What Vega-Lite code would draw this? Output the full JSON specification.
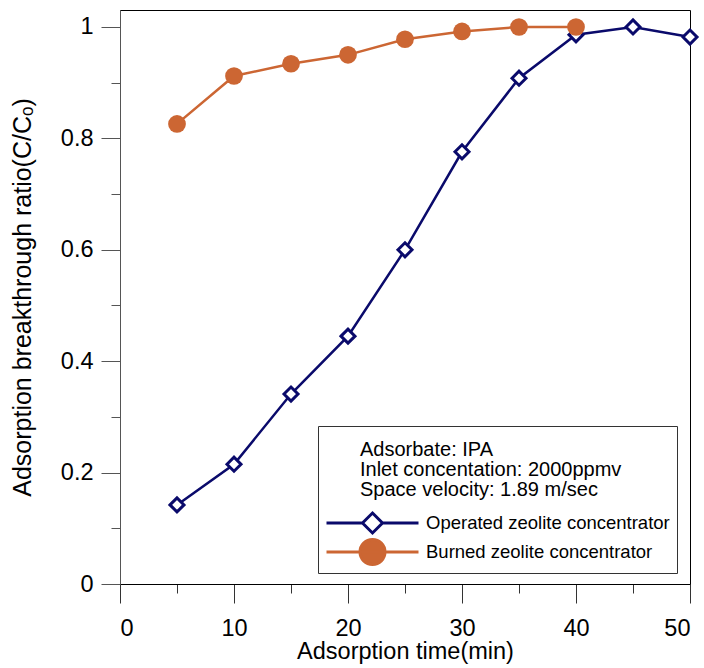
{
  "$schema": "https://vega.github.io/schema/vega-lite/v6.json",
  "width": 570,
  "height": 574,
  "autosize": {"type": "none"},
  "padding": {"left": 120, "top": 10, "right": 14, "bottom": 84},
  "config": {
    "font": "Liberation Sans",
    "view": {"stroke": "black", "strokeWidth": 1}
  },
  "data": {
    "values": [
      {"t": 5, "r": 0.142, "s": "Operated zeolite concentrator"},
      {"t": 10, "r": 0.215, "s": "Operated zeolite concentrator"},
      {"t": 15, "r": 0.341, "s": "Operated zeolite concentrator"},
      {"t": 20, "r": 0.445, "s": "Operated zeolite concentrator"},
      {"t": 25, "r": 0.600, "s": "Operated zeolite concentrator"},
      {"t": 30, "r": 0.776, "s": "Operated zeolite concentrator"},
      {"t": 35, "r": 0.908, "s": "Operated zeolite concentrator"},
      {"t": 40, "r": 0.986, "s": "Operated zeolite concentrator"},
      {"t": 45, "r": 1.0, "s": "Operated zeolite concentrator"},
      {"t": 50, "r": 0.982, "s": "Operated zeolite concentrator"},
      {"t": 5, "r": 0.826, "s": "Burned zeolite concentrator"},
      {"t": 10, "r": 0.912, "s": "Burned zeolite concentrator"},
      {"t": 15, "r": 0.934, "s": "Burned zeolite concentrator"},
      {"t": 20, "r": 0.950, "s": "Burned zeolite concentrator"},
      {"t": 25, "r": 0.978, "s": "Burned zeolite concentrator"},
      {"t": 30, "r": 0.992, "s": "Burned zeolite concentrator"},
      {"t": 35, "r": 1.0, "s": "Burned zeolite concentrator"},
      {"t": 40, "r": 1.0, "s": "Burned zeolite concentrator"}
    ]
  },
  "encoding": {
    "x": {
      "field": "t",
      "type": "quantitative",
      "scale": {"domain": [0, 50], "nice": false},
      "axis": {
        "title": "Adsorption time(min)",
        "values": [0, 5, 10, 15, 20, 25, 30, 35, 40, 45, 50],
        "format": "d",
        "labelExpr": "datum.value % 10 === 0 ? datum.label : ''",
        "tickSize": {"condition": {"test": "datum.value % 10 === 0", "value": 19}, "value": 9},
        "grid": false,
        "domainColor": "black",
        "tickColor": "#333333",
        "labelFontSize": 23.5,
        "labelColor": "black",
        "labelPadding": 13,
        "titleFontSize": 23.5,
        "titleFontWeight": "normal",
        "titleColor": "black",
        "titlePadding": 0
      }
    },
    "y": {
      "field": "r",
      "type": "quantitative",
      "scale": {"domain": [0, 1.0305], "nice": false},
      "axis": {
        "title": "Adsorption breakthrough ratio(C/Cₒ)",
        "values": [0, 0.1, 0.2, 0.3, 0.4, 0.5, 0.6, 0.7, 0.8, 0.9, 1],
        "format": "~g",
        "labelExpr": "round(datum.value * 10) % 2 === 0 ? datum.label : ''",
        "tickSize": {"condition": {"test": "round(datum.value * 10) % 2 === 0", "value": 19}, "value": 9},
        "grid": false,
        "domainColor": "#555555",
        "tickColor": "#555555",
        "labelFontSize": 23.5,
        "labelColor": "black",
        "labelPadding": 8,
        "titleFontSize": 25,
        "titleFontWeight": "normal",
        "titleColor": "black",
        "titlePadding": 25
      }
    }
  },
  "layer": [
    {
      "mark": {"type": "line", "strokeWidth": 2.5},
      "encoding": {
        "color": {
          "field": "s",
          "type": "nominal",
          "scale": {
            "domain": ["Operated zeolite concentrator", "Burned zeolite concentrator"],
            "range": ["#0a0a6b", "#cc6633"]
          },
          "legend": {
            "orient": "none",
            "legendX": 198,
            "legendY": 416,
            "title": ["Adsorbate: IPA", "Inlet concentation: 2000ppmv", "Space velocity: 1.89 m/sec"],
            "titleFontSize": 20,
            "titleFontWeight": "normal",
            "titleColor": "black",
            "titleLineHeight": 20,
            "titlePadding": 16,
            "titleLimit": 1000,
            "labelFontSize": 18.5,
            "labelColor": "black",
            "labelLimit": 1000,
            "padding": 7,
            "strokeColor": "#333333",
            "fillColor": "white",
            "symbolSize": 400,
            "symbolOffset": 36,
            "labelOffset": 42,
            "clipHeight": 28,
            "rowPadding": 1,
            "symbolStrokeWidth": 3,
            "encode": {
              "title": {"update": {"dx": {"value": 35}, "dy": {"value": 7}}},
              "symbols": {
                "update": {
                  "shape": {"signal": "datum.value === 'Operated zeolite concentrator' ? 'M-4.6,0H-1M1,0H4.6M0,-1L1,0L0,1L-1,0Z' : 'M-4.6,0H4.6M-1.25,0A1.25,1.25,0,1,1,1.25,0A1.25,1.25,0,1,1,-1.25,0Z'"},
                  "fill": {"signal": "datum.value === 'Operated zeolite concentrator' ? 'white' : '#cc6633'"},
                  "strokeWidth": {"value": 3},
                  "opacity": {"value": 1}
                }
              }
            }
          }
        }
      }
    },
    {
      "transform": [{"filter": "datum.s === 'Operated zeolite concentrator'"}],
      "mark": {"type": "point", "shape": "diamond", "filled": true, "fill": "white", "stroke": "#0a0a6b", "strokeWidth": 3, "size": 196, "opacity": 1}
    },
    {
      "transform": [{"filter": "datum.s === 'Burned zeolite concentrator'"}],
      "mark": {"type": "circle", "color": "#cc6633", "size": 314, "opacity": 1}
    }
  ]
}
